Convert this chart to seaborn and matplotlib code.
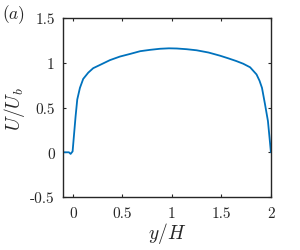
import numpy as np
import pandas as pd
import matplotlib
matplotlib.use("Agg")
import matplotlib.pyplot as plt
import seaborn as sns

# mean streamwise velocity profile
y_over_h = [-0.1, -0.06, -0.04, -0.023, -0.003, 0.01, 0.027, 0.044, 0.071,
            0.104, 0.155, 0.205, 0.29, 0.374, 0.475, 0.58, 0.68, 0.78, 0.88,
            0.97, 1.05, 1.15, 1.25, 1.37, 1.485, 1.57, 1.65, 1.72, 1.79,
            1.855, 1.885, 1.91, 1.94, 1.97, 1.99, 2.0]
u_over_ub = [0.0, 0.0, 0.0, -0.018, 0.01, 0.18, 0.40, 0.59, 0.72,
             0.82, 0.89, 0.94, 0.985, 1.03, 1.07, 1.10, 1.13, 1.145, 1.157,
             1.162, 1.16, 1.152, 1.14, 1.115, 1.08, 1.05, 1.02, 0.99, 0.95,
             0.87, 0.80, 0.72, 0.54, 0.35, 0.12, 0.0]

x_ticks = [0, 0.5, 1, 1.5, 2]
x_tick_labels = ['0', '0.5', '1', '1.5', '2']
y_ticks = [-0.5, 0, 0.5, 1, 1.5]
y_tick_labels = ['-0.5', '0', '0.5', '1', '1.5']

df = pd.DataFrame({'y': y_over_h, 'U': u_over_ub})

sns.set_style('ticks')
plt.rcParams['mathtext.fontset'] = 'cm'
plt.rcParams['font.family'] = ['cmr10', 'DejaVu Serif']
plt.rcParams['axes.formatter.use_mathtext'] = True

fig = plt.figure(figsize=(3.0, 2.51), dpi=100)
ax = fig.add_axes([0.21, 0.211, 0.693, 0.713])

sns.lineplot(data=df, x='y', y='U', ax=ax, color='#0072BD', linewidth=1.3,
             sort=False, estimator=None)

ax.set_xlim(-0.1, 2)
ax.set_ylim(-0.5, 1.5)
ax.set_xticks(x_ticks)
ax.set_xticklabels(x_tick_labels, fontsize=11, family='cmr10')
ax.set_yticks(y_ticks)
ax.set_yticklabels(y_tick_labels, fontsize=11, family='cmr10')
ax.tick_params(direction='in', length=2.5, width=0.8, colors='#262626',
               top=True, right=True, pad=6)
ax.tick_params(axis='x', pad=7)
for s in ax.spines.values():
    s.set_visible(True)
    s.set_color('#262626')
    s.set_linewidth(1.0)

ax.set_xlabel('$y/H$', fontsize=14, labelpad=0)
ax.set_ylabel('$U/U_b$', fontsize=14, labelpad=2)
fig.text(0.005, 0.94, '$(a)$', fontsize=12.5, ha='left', va='center')

fig.savefig('out.png', dpi=100)
